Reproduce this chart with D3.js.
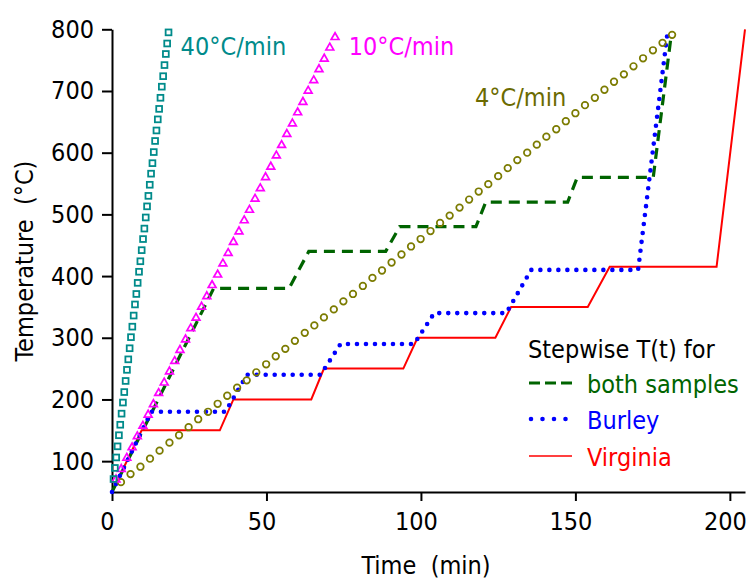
<!DOCTYPE html>
<html>
<head>
<meta charset="utf-8">
<script src="https://cdn.jsdelivr.net/npm/d3@7"></script>
<style>
  html, body { margin: 0; padding: 0; background: #fff; }
  svg text { font-family: "DejaVu Sans Condensed", "DejaVu Sans", sans-serif; font-stretch: condensed; font-size: 25px; white-space: pre; }
</style>
</head>
<body>
<svg id="chart" width="747" height="579"></svg>
<script>
// heating ramps (markers)
const time40 = [0.5,0.93,1.37,1.8,2.24,2.67,3.1,3.54,3.97,4.41,4.84,5.27,5.71,6.14,6.58,7.01,7.44,7.88,8.31,8.75,9.18,9.61,10.05,10.48,10.92,11.35,11.78,12.22,12.65,13.09,13.52,13.95,14.39,14.82,15.26,15.69,16.12,16.56,16.99,17.43,17.86,18.3];
const temp40 = [71,89,106,124,142,159,177,195,212,230,248,265,283,301,318,336,354,371,389,407,424,442,460,477,495,513,530,548,566,583,601,619,636,654,671,689,707,724,742,760,777,795];
const time10 = [1.3,3.0,4.8,6.5,8.2,10.0,11.7,13.4,15.1,16.9,18.6,20.3,22.0,23.8,25.5,27.2,29.0,30.7,32.4,34.2,35.9,37.6,39.3,41.1,42.8,44.5,46.3,48.0,49.7,51.4,53.2,54.9,56.6,58.4,60.1,61.8,63.5,65.3,67.0,68.7,70.5,72.2];
const temp10 = [71,88,106,123,141,158,176,193,211,228,246,263,281,298,316,333,351,368,386,403,421,438,456,473,491,508,526,543,561,578,596,613,631,648,666,683,701,718,736,753,771,788];
const time4 = [2.9,6.0,9.2,12.3,15.4,18.6,21.7,24.8,27.9,31.1,34.2,37.3,40.5,43.6,46.7,49.9,53.0,56.1,59.2,62.4,65.5,68.6,71.8,74.9,78.0,81.2,84.3,87.4,90.5,93.7,96.8,99.9,103.1,106.2,109.3,112.5,115.6,118.7,121.8,125.0,128.1,131.2,134.4,137.5,140.6,143.8,146.9,150.0,153.1,156.3,159.4,162.5,165.7,168.8,171.9,175.1,178.2,181.3];
const temp4 = [66,79,91,104,117,130,142,155,168,180,193,206,219,231,244,257,270,282,295,308,320,333,346,359,371,384,397,409,422,435,448,460,473,486,498,511,524,537,549,562,575,588,600,613,626,638,651,664,677,689,702,715,727,740,753,766,778,791];

// stepwise T(t)
const bothTime = [0, 32.9, 57.3, 63.7, 88.6, 93.1, 117.8, 121, 147.5, 150.6, 175.2, 181];
const bothTemp = [50, 380, 380, 440, 440, 480, 480, 520, 520, 560, 560, 790];
const burleyTime = [0, 12.7, 36.7, 43.7, 67.5, 74, 97.8, 104.3, 127.6, 135.7, 170.3, 179.7];
const burleyTemp = [50, 180, 180, 240, 240, 290, 290, 340, 340, 410, 410, 790];
const virginiaTime = [0, 9.6, 34.9, 39.3, 64.5, 68.6, 94.3, 98.9, 124.1, 129.2, 154, 161.1, 195.7, 204.9];
const virginiaTemp = [50, 150, 150, 200, 200, 250, 250, 300, 300, 350, 350, 415, 415, 800];

const timeTicks = [0, 50, 100, 150, 200];
const tempTicks = [100, 200, 300, 400, 500, 600, 700, 800];
const legendNames = ['both samples', 'Burley', 'Virginia'];

const svg = d3.select('#chart');
const x = d3.scaleLinear().domain([0, 204.9]).range([112, 745]);
const y = d3.scaleLinear().domain([50, 800]).range([492, 29.3]);

const pts = (ts, vs) => ts.map((t, i) => [t, vs[i]]);
const line = d3.line().x(d => x(d[0])).y(d => y(d[1]));

// axes
const minorX = d3.range(10, 205, 10).filter(v => v % 50 !== 0);
const minorY = d3.range(60, 800, 20).filter(v => v % 100 !== 0);

const gx = svg.append('g').attr('transform', 'translate(0,492)');
gx.call(d3.axisBottom(x).tickValues(minorX).tickSize(5).tickFormat('').tickSizeOuter(0));
gx.call(d3.axisBottom(x).tickValues(timeTicks).tickSize(9).tickSizeOuter(0).tickPadding(10));
const gy = svg.append('g').attr('transform', 'translate(112,0)');
gy.call(d3.axisLeft(y).tickValues(minorY).tickSize(5).tickFormat('').tickSizeOuter(0));
gy.call(d3.axisLeft(y).tickValues(tempTicks).tickSize(10).tickSizeOuter(0).tickPadding(8));
svg.selectAll('.domain, .tick line').attr('stroke', '#000').attr('stroke-width', 2);
svg.selectAll('.tick text').attr('font-size', 25).attr('font-family', null).attr('fill', '#000');
gx.selectAll('.tick text').attr('dy', '0.75em').attr('dx', -5);

svg.append('text').attr('x', 426).attr('y', 574).attr('text-anchor', 'middle').text('Time  (min)');
svg.append('text').attr('transform', 'translate(33,261) rotate(-90)').attr('text-anchor', 'middle').text('Temperature  (°C)');

// stepwise lines
svg.append('path').datum(pts(virginiaTime, virginiaTemp)).attr('d', line)
  .attr('fill', 'none').attr('stroke', '#ff0000').attr('stroke-width', 2);
svg.append('path').datum(pts(bothTime, bothTemp)).attr('d', line)
  .attr('fill', 'none').attr('stroke', '#006400').attr('stroke-width', 3.2).attr('stroke-dasharray', '11,7');
svg.append('path').datum(pts(burleyTime, burleyTemp)).attr('d', line)
  .attr('fill', 'none').attr('stroke', '#0000ff').attr('stroke-width', 4.6)
  .attr('stroke-linecap', 'round').attr('stroke-dasharray', '0,9');

// markers
svg.append('g').selectAll('circle').data(pts(time4, temp4)).join('circle')
  .attr('cx', d => x(d[0])).attr('cy', d => y(d[1])).attr('r', 3.3)
  .attr('fill', 'none').attr('stroke', '#7b7b00').attr('stroke-width', 1.7);
svg.append('g').selectAll('path').data(pts(time10, temp10)).join('path')
  .attr('transform', d => `translate(${x(d[0])},${y(d[1])})`)
  .attr('d', 'M0,-4L3.9,2.8L-3.9,2.8Z')
  .attr('fill', 'none').attr('stroke', '#ff00ff').attr('stroke-width', 1.7);
svg.append('g').selectAll('rect').data(pts(time40, temp40)).join('rect')
  .attr('x', d => x(d[0]) - 2.9).attr('y', d => y(d[1]) - 2.9).attr('width', 5.8).attr('height', 5.8)
  .attr('fill', 'none').attr('stroke', '#008b8b').attr('stroke-width', 1.8);

// ramp labels
svg.append('text').attr('x', x(22.2)).attr('y', 55).attr('fill', '#008b8b').text('40°C/min');
svg.append('text').attr('x', x(76.6)).attr('y', 55).attr('fill', '#ff00ff').text('10°C/min');
svg.append('text').attr('x', x(117.5)).attr('y', 106).attr('fill', '#6b6b00').text('4°C/min');

// legend
const legend = svg.append('g');
legend.append('text').attr('x', 528).attr('y', 358).attr('fill', '#000').text('Stepwise T(t) for');
const legColors = ['#006400', '#0000ff', '#ff0000'];
const legY = [383, 419, 456];
legendNames.forEach((name, i) => {
  const l = legend.append('line').attr('x1', 529).attr('x2', 572).attr('y1', legY[i]).attr('y2', legY[i])
    .attr('stroke', legColors[i]);
  if (i === 0) l.attr('stroke-width', 3).attr('stroke-dasharray', '11,5');
  if (i === 1) l.attr('x1', 531).attr('x2', 571).attr('stroke-width', 4.6).attr('stroke-linecap', 'round').attr('stroke-dasharray', '0,11.5');
  if (i === 2) l.attr('stroke-width', 1.3);
  legend.append('text').attr('x', 587).attr('y', legY[i] + 10).attr('fill', legColors[i]).text(name);
});
</script>
</body>
</html>
